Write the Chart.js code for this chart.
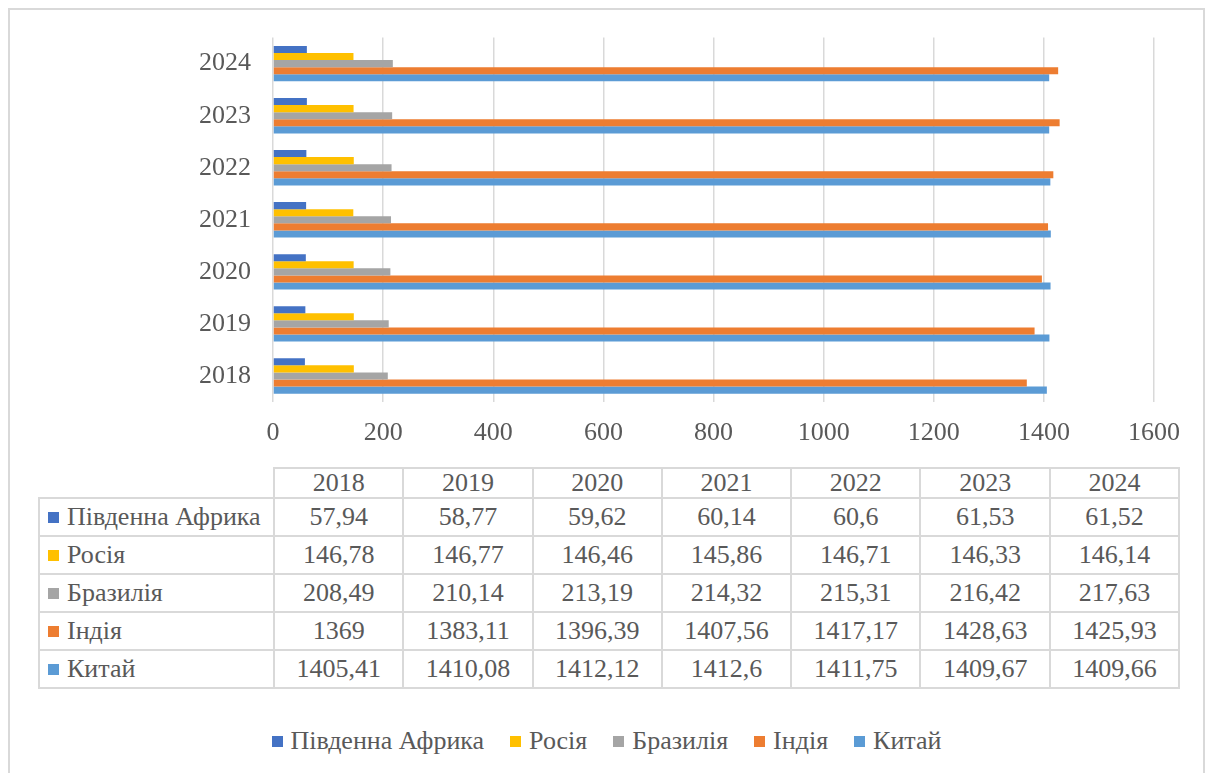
<!DOCTYPE html>
<html>
<head>
<meta charset="utf-8">
<script src="https://cdn.jsdelivr.net/npm/chart.js@4/dist/chart.umd.min.js"></script>
<style>
  html, body { margin: 0; padding: 0; background: #fff; }
  body { width: 1213px; height: 773px; position: relative; overflow: hidden;
         font-family: "Liberation Serif", serif; color: #595959; }
  #frame { position: absolute; left: 8px; top: 8px; width: 1197px; height: 780px;
           border: 2px solid #d9d9d9; box-sizing: border-box; }
  #chart-wrap { position: absolute; left: 0; top: 0; width: 1213px; height: 455px; }
  #tbl { position: absolute; left: 38px; top: 467px; border-collapse: collapse;
         table-layout: fixed; font-family: "Liberation Serif", serif; font-size: 26px; color: #595959; }
  #tbl td, #tbl th { border: 2px solid #d9d9d9; text-align: center; font-weight: normal;
                     font-family: "Liberation Serif", serif; font-size: 26px;
                     padding: 0; white-space: nowrap; overflow: visible; }
  #tbl th { height: 28px; line-height: 28px; }
  #tbl td { height: 36px; line-height: 36px; }
  #tbl th.blank { border-top: none; border-left: none; }
  #tbl td.name { text-align: left; padding-left: 8px; }
  .mk { display: inline-block; width: 11px; height: 11px; margin-right: 8px; vertical-align: 2px; }
  #legend { position: absolute; left: 0; top: 725px; width: 1213px; display: flex;
            justify-content: center; font-family: "Liberation Serif", serif; font-size: 26px; line-height: 32px; }
  #legend span.item { margin: 0 13px; white-space: nowrap; }
</style>
</head>
<body>
<div id="frame"></div>
<div id="chart-wrap"><canvas id="c"></canvas></div>
<table id="tbl"></table>
<div id="legend"></div>
<script>
(function () {
  'use strict';

  var years = ['2018', '2019', '2020', '2021', '2022', '2023', '2024'];
  var seriesNames = ['Південна Африка', 'Росія', 'Бразилія', 'Індія', 'Китай'];
  var southAfrica = [57.94, 58.77, 59.62, 60.14, 60.6, 61.53, 61.52];
  var russia = [146.78, 146.77, 146.46, 145.86, 146.71, 146.33, 146.14];
  var brazil = [208.49, 210.14, 213.19, 214.32, 215.31, 216.42, 217.63];
  var india = [1369, 1383.11, 1396.39, 1407.56, 1417.17, 1428.63, 1425.93];
  var china = [1405.41, 1410.08, 1412.12, 1412.6, 1411.75, 1409.67, 1409.66];
  var xTicks = [0, 200, 400, 600, 800, 1000, 1200, 1400, 1600];

  var COLORS = ['#4472c4', '#ffc000', '#a5a5a5', '#ed7d31', '#5b9bd5'];
  var values = [southAfrica, russia, brazil, india, china];
  var FONT = '"Liberation Serif", serif';

  // Excel puts the first year at the bottom, so the chart gets reversed copies
  var labelsTopDown = years.slice().reverse();

  new Chart(document.getElementById('c').getContext('2d'), {
    type: 'bar',
    data: {
      labels: labelsTopDown,
      datasets: seriesNames.map(function (n, i) {
        return {
          label: n,
          data: values[i].slice().reverse(),
          backgroundColor: COLORS[i],
          borderWidth: 0,
          categoryPercentage: 0.68,
          barPercentage: 1
        };
      })
    },
    options: {
      indexAxis: 'y',
      responsive: true, maintainAspectRatio: false,
      animation: false,
      layout: { padding: { left: 0, right: 59, top: 37, bottom: 0 } },
      plugins: { legend: { display: false }, tooltip: { enabled: false } },
      scales: {
        x: {
          min: 0, max: 1600,
          afterBuildTicks: function (s) { s.ticks = xTicks.map(function (v) { return { value: v }; }); },
          afterFit: function (s) { s.height = 53; },
          grid: { color: '#d9d9d9', lineWidth: 1.5, drawTicks: false },
          border: { display: false },
          ticks: {
            color: '#595959', font: { family: FONT, size: 26 }, padding: 16, maxRotation: 0,
            callback: function (v) { return String(v); }
          }
        },
        y: {
          afterFit: function (s) { s.width = 273; },
          grid: { display: false, drawTicks: false },
          border: { display: false },
          ticks: { color: '#595959', font: { family: FONT, size: 26 }, padding: 22 }
        }
      }
    }
  });

  // data table under the chart
  function fmt(v) { return String(v).replace('.', ','); }
  var html = '<colgroup><col style="width:235px">';
  years.forEach(function () { html += '<col style="width:129.3px">'; });
  html += '</colgroup><tr><th class="blank"></th>';
  years.forEach(function (y) { html += '<th>' + y + '</th>'; });
  html += '</tr>';
  seriesNames.forEach(function (n, i) {
    html += '<tr><td class="name"><span class="mk" style="background:' + COLORS[i] + '"></span>' + n + '</td>';
    values[i].forEach(function (v) { html += '<td>' + fmt(v) + '</td>'; });
    html += '</tr>';
  });
  document.getElementById('tbl').innerHTML = html;

  var lg = '';
  seriesNames.forEach(function (n, i) {
    lg += '<span class="item"><span class="mk" style="background:' + COLORS[i] + '"></span>' + n + '</span>';
  });
  document.getElementById('legend').innerHTML = lg;
})();
</script>
</body>
</html>
